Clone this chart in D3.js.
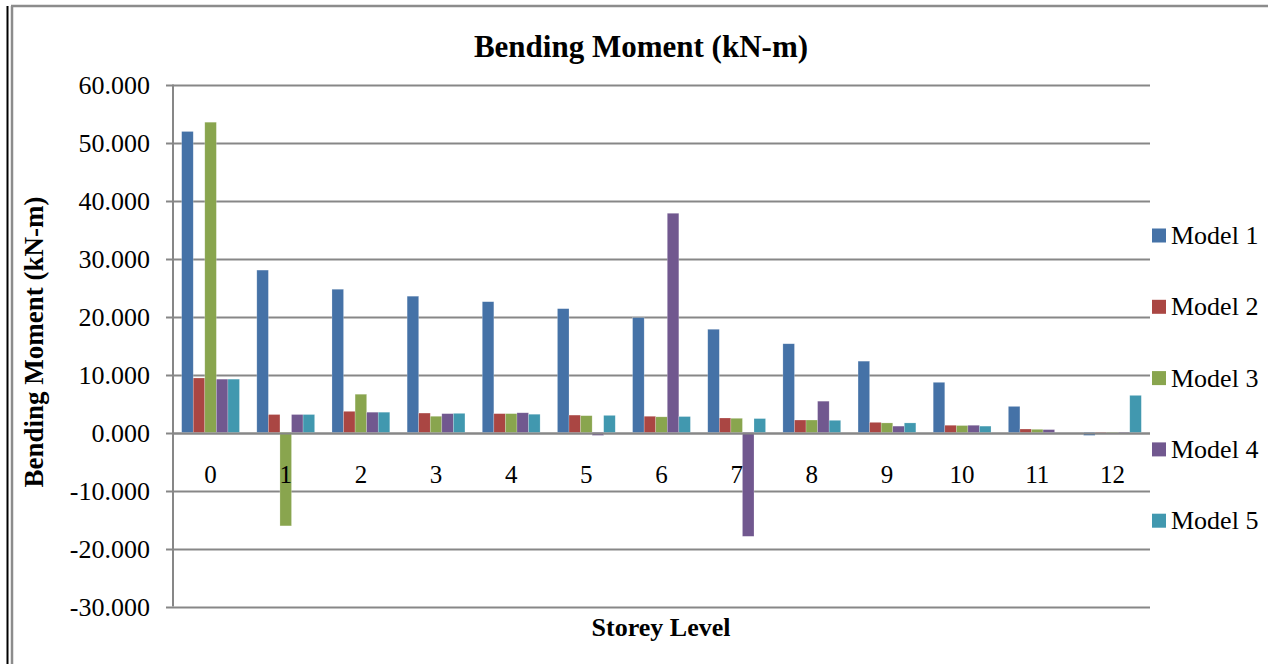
<!DOCTYPE html>
<html>
<head>
<meta charset="utf-8">
<script src="https://cdn.jsdelivr.net/npm/d3@7/dist/d3.min.js"></script>
<style>
html,body{margin:0;padding:0;background:#fff;}
svg{display:block;}
text{font-family:"Liberation Serif","Times New Roman",serif;fill:#000;}
</style>
</head>
<body>
<svg id="chart" width="1268" height="664"></svg>
<script>
const categories = ["0","1","2","3","4","5","6","7","8","9","10","11","12"];
const seriesNames = ["Model 1","Model 2","Model 3","Model 4","Model 5"];
const model1 = [51.9, 28.0, 24.7, 23.5, 22.55, 21.35, 19.8, 17.8, 15.3, 12.3, 8.65, 4.5, -0.5];
const model2 = [9.4, 3.1, 3.65, 3.35, 3.25, 3.0, 2.8, 2.5, 2.15, 1.75, 1.25, 0.6, -0.1];
const model3 = [53.5, -16.1, 6.6, 2.8, 3.25, 2.9, 2.7, 2.45, 2.15, 1.65, 1.2, 0.55, -0.1];
const model4 = [9.2, 3.1, 3.5, 3.25, 3.4, -0.5, 37.8, -17.9, 5.4, 1.1, 1.25, 0.5, -0.2];
const model5 = [9.2, 3.1, 3.5, 3.3, 3.15, 2.95, 2.75, 2.4, 2.1, 1.65, 1.1, 0.0, 6.4];
const yTicks = [60, 50, 40, 30, 20, 10, 0, -10, -20, -30];
const colors = ["#4572A7", "#AA4643", "#89A54E", "#71588F", "#4198AF"];

const seriesValues = [model1, model2, model3, model4, model5];
const fmt = d3.formatLocale({decimal: ".", thousands: ",", grouping: [3], currency: ["", ""], minus: "-"}).format(".3f");

const svg = d3.select("#chart");

// frame
svg.append("line").attr("x1", 7.5).attr("x2", 7.5).attr("y1", 6).attr("y2", 664)
  .attr("stroke", "#000").attr("stroke-width", 2);
svg.append("line").attr("x1", 12).attr("x2", 12).attr("y1", 6).attr("y2", 664)
  .attr("stroke", "#8c8c8c").attr("stroke-width", 2.5);
svg.append("line").attr("x1", 11).attr("x2", 1268).attr("y1", 6).attr("y2", 6)
  .attr("stroke", "#8c8c8c").attr("stroke-width", 2.5);

const pLeft = 173, pRight = 1150, pTop = 84.5, pBottom = 606.5;

const y = d3.scaleLinear().domain([-30, 60]).range([pBottom, pTop]);
const x0 = d3.scaleBand().domain(categories).range([pLeft, pRight]).padding(0);
const step = x0.bandwidth();
const barW = step / 6.5;
const x1 = d3.scaleBand().domain(seriesNames).range([barW * 0.75, step - barW * 0.75]).padding(0);

// gridlines + ticks
const grid = svg.append("g");
grid.selectAll("line").data(yTicks).enter().append("line")
  .attr("x1", pLeft - 7).attr("x2", pRight)
  .attr("y1", d => Math.round(y(d)) + 0.5).attr("y2", d => Math.round(y(d)) + 0.5)
  .attr("stroke", "#878787").attr("stroke-width", 2);

// y axis line
svg.append("line").attr("x1", pLeft).attr("x2", pLeft).attr("y1", pTop).attr("y2", pBottom)
  .attr("stroke", "#878787").attr("stroke-width", 2);

// y tick labels
svg.append("g").selectAll("text").data(yTicks).enter().append("text")
  .attr("x", 150).attr("y", d => y(d))
  .attr("dy", "0.35em").attr("text-anchor", "end")
  .attr("font-size", 26)
  .text(d => fmt(d));

// bars
const groups = svg.append("g").selectAll("g").data(seriesNames).enter().append("g")
  .attr("fill", (d, i) => colors[i]);
groups.each(function(name, si) {
  d3.select(this).selectAll("rect").data(seriesValues[si]).enter().append("rect")
    .attr("x", (v, ci) => x0(categories[ci]) + x1(name))
    .attr("width", x1.bandwidth())
    .attr("y", v => y(Math.max(0, v)))
    .attr("height", v => Math.abs(y(v) - y(0)))
    .attr("stroke", "rgba(255,255,255,0.35)").attr("stroke-width", 0.6);
});

// zero axis line on top
svg.append("line").attr("x1", pLeft).attr("x2", pRight)
  .attr("y1", Math.round(y(0)) + 0.5).attr("y2", Math.round(y(0)) + 0.5)
  .attr("stroke", "#878787").attr("stroke-width", 2);

// category labels
svg.append("g").selectAll("text").data(categories).enter().append("text")
  .attr("x", d => x0(d) + step / 2).attr("y", 483)
  .attr("text-anchor", "middle").attr("font-size", 25)
  .text(d => d);

// title
svg.append("text").attr("x", 641).attr("y", 57).attr("text-anchor", "middle")
  .attr("font-size", 31).attr("font-weight", "bold").text("Bending Moment (kN-m)");

// x axis title
svg.append("text").attr("x", 661).attr("y", 636).attr("text-anchor", "middle")
  .attr("font-size", 26).attr("font-weight", "bold").text("Storey Level");

// y axis title
svg.append("text").attr("transform", "translate(43,342) rotate(-90)")
  .attr("text-anchor", "middle").attr("font-size", 27).attr("font-weight", "bold")
  .text("Bending Moment (kN-m)");

// legend
const legend = svg.append("g").selectAll("g").data(seriesNames).enter().append("g")
  .attr("transform", (d, i) => `translate(1152,${235.5 + i * 71.3})`);
legend.append("rect").attr("x", 0).attr("y", -7).attr("width", 14).attr("height", 14)
  .attr("fill", (d, i) => colors[i]);
legend.append("text").attr("x", 19).attr("y", 8.5)
  .attr("font-size", 26).text(d => d);
</script>
</body>
</html>
